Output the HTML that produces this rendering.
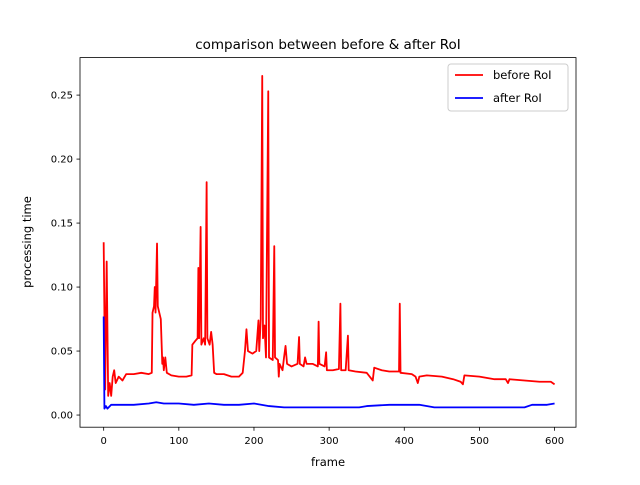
<!DOCTYPE html>
<html><head><meta charset="utf-8"><style>
html,body{margin:0;padding:0;background:#fff;}
svg text{font-family:"DejaVu Sans","Liberation Sans",sans-serif;fill:#000;}
</style></head><body>
<svg id="chart" width="640" height="480" xmlns="http://www.w3.org/2000/svg">
<rect width="640" height="480" fill="#fff"/>
<text x="328" y="49" font-size="13.5" text-anchor="middle">comparison between before &amp; after RoI</text>
<g id="plot"></g>
<g id="axes"></g>
<text x="328" y="466" font-size="11.5" text-anchor="middle">frame</text>
<text x="0" y="0" font-size="11.5" text-anchor="middle" transform="translate(31,242) rotate(-90)">processing time</text>
<g>
<rect x="448" y="64" width="120" height="47" rx="3" fill="#fff" stroke="#ccc" stroke-width="1"/>
<line x1="455" y1="75" x2="483" y2="75" stroke="#ff0000" stroke-width="1.8"/>
<text x="493" y="79" font-size="11.5">before RoI</text>
<line x1="455" y1="98" x2="483" y2="98" stroke="#0000ff" stroke-width="1.8"/>
<text x="493" y="102" font-size="11.5">after RoI</text>
</g>
</svg>
<script>
const beforeFrames=[0,2,4,6,8,10,12,14,16,20,25,30,40,50,60,64,65,67,68,69,71,72,74,76,78,79,80,82,84,90,100,110,117,118,122,125,126,127,129,130,133,135,137,138,141,143,145,147,150,160,170,180,185,188,190,192,198,203,206,207,209,211,212,214,216,219,220,225,227,228,232,233,234,238,240,242,244,250,258,260,261,266,268,270,278,285,286,287,294,296,297,305,313,315,316,322,325,326,335,350,358,360,370,380,393,394,395,410,415,418,420,430,450,465,475,478,480,500,520,535,538,540,560,580,595,600];
const beforeValues=[0.135,0.02,0.12,0.015,0.025,0.015,0.03,0.035,0.025,0.03,0.027,0.032,0.032,0.033,0.032,0.033,0.08,0.085,0.1,0.08,0.134,0.085,0.08,0.075,0.04,0.045,0.035,0.045,0.033,0.031,0.03,0.03,0.031,0.055,0.058,0.06,0.115,0.06,0.147,0.055,0.06,0.055,0.182,0.06,0.055,0.065,0.055,0.033,0.032,0.032,0.03,0.03,0.033,0.05,0.067,0.05,0.048,0.05,0.074,0.05,0.075,0.265,0.06,0.07,0.045,0.253,0.045,0.043,0.132,0.045,0.043,0.03,0.04,0.035,0.045,0.054,0.04,0.038,0.04,0.061,0.04,0.038,0.045,0.04,0.04,0.038,0.073,0.04,0.038,0.049,0.035,0.035,0.036,0.087,0.035,0.035,0.062,0.035,0.034,0.033,0.027,0.037,0.035,0.034,0.034,0.087,0.033,0.032,0.03,0.025,0.03,0.031,0.03,0.028,0.026,0.024,0.031,0.03,0.028,0.028,0.025,0.028,0.027,0.026,0.026,0.024];
const afterFrames=[0,1,3,5,10,20,40,60,70,80,100,120,140,160,180,200,220,240,300,340,350,380,420,440,500,560,570,590,600];
const afterValues=[0.077,0.005,0.007,0.005,0.008,0.008,0.008,0.009,0.01,0.009,0.009,0.008,0.009,0.008,0.008,0.009,0.007,0.006,0.006,0.006,0.007,0.008,0.008,0.006,0.006,0.006,0.008,0.008,0.009];
const xTicks=[0,100,200,300,400,500,600];
const yTicks=[0,0.05,0.10,0.15,0.20,0.25];
const yTickLabels=["0.00","0.05","0.10","0.15","0.20","0.25"];
const L=80,R=576,T=57.6,B=427.2;
const xmin=-31.5,xmax=628.5,ymin=-0.0095,ymax=0.2793;
function sx(v){return L+(v-xmin)/(xmax-xmin)*(R-L);}
function sy(v){return B-(v-ymin)/(ymax-ymin)*(B-T);}
const NS="http://www.w3.org/2000/svg";
const plot=document.getElementById('plot'),axes=document.getElementById('axes');
function mk(tag,attrs,parent){const e=document.createElementNS(NS,tag);for(const k in attrs)e.setAttribute(k,attrs[k]);parent.appendChild(e);return e;}
function series(fr,vals,color,name){
  const d=fr.map((f,i)=>(i?'L':'M')+sx(f).toFixed(2)+','+sy(vals[i]).toFixed(2)).join(' ');
  const p=mk('path',{d:d,fill:'none',stroke:color,'stroke-width':1.8,'stroke-linejoin':'round'},plot);
  
  
}
series(beforeFrames,beforeValues,'#ff0000','before-roi-line');
series(afterFrames,afterValues,'#0000ff','after-roi-line');
const frame=mk('rect',{x:L,y:T,width:R-L,height:B-T,fill:'none',stroke:'#000','stroke-width':0.8},axes);


xTicks.forEach(t=>{
  const x=sx(t);
  const tk=mk('line',{x1:x,y1:B,x2:x,y2:B+3.5,stroke:'#000','stroke-width':0.8},axes);
  
  
  const tx=mk('text',{x:x,y:B+17,'font-size':10,'text-anchor':'middle'},axes);
  tx.textContent=t;
  
  
});
yTicks.forEach((t,i)=>{
  const y=sy(t);
  const tk=mk('line',{x1:L-3.5,y1:y,x2:L,y2:y,stroke:'#000','stroke-width':0.8},axes);
  
  
  const tx=mk('text',{x:L-7,y:y+3.5,'font-size':10,'text-anchor':'end'},axes);
  tx.textContent=yTickLabels[i];
  
  
});
</script>
</body></html>
